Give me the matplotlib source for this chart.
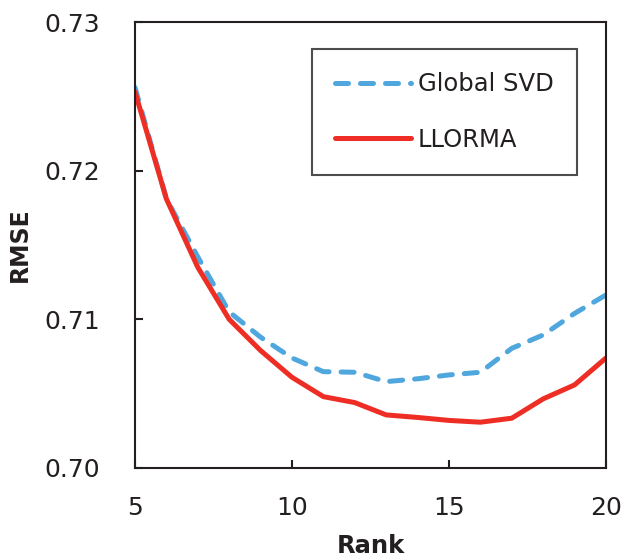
import matplotlib
matplotlib.use("Agg")
import matplotlib.pyplot as plt

rank = [5, 6, 7, 8, 9, 10, 11, 12, 13, 14, 15, 16, 17, 18, 19, 20]
global_svd = [0.7256, 0.7181, 0.7142, 0.7105, 0.7088, 0.7074, 0.70648, 0.70644, 0.70581,
              0.70600, 0.70626, 0.70644, 0.70805, 0.70895, 0.71040, 0.71164]
llorma = [0.7253, 0.7181, 0.7135, 0.7100, 0.7079, 0.7061, 0.7048, 0.7044, 0.70357,
          0.7034, 0.7032, 0.70308, 0.70335, 0.70465, 0.70559, 0.7074]
x_ticks = [5, 10, 15, 20]
y_ticks = [0.70, 0.71, 0.72, 0.73]
y_labels = ["0.70", "0.71", "0.72", "0.73"]

dark = '#231F20'
plt.rcParams['font.family'] = ['DejaVu Sans']
fig = plt.figure(figsize=(6.21, 5.59), dpi=100)
ax = fig.add_axes([0.2174, 0.1628, 0.7584, 0.7978])

ax.plot(rank, global_svd, color='#4FA7DE', lw=3.6, dashes=(2.6, 2.4),
        dash_capstyle='round', solid_capstyle='round', label='Global SVD')
ax.plot(rank, llorma, color='#EE2E24', lw=3.6, solid_capstyle='round', label='LLORMA')

ax.set_xlim(5, 20)
ax.set_ylim(0.70, 0.73)
ax.set_xticks(x_ticks)
ax.set_yticks(y_ticks)
ax.set_yticklabels(y_labels)
ax.tick_params(direction='in', length=6, width=1.5, labelsize=18, colors=dark)
ax.tick_params(axis='y', pad=25)
ax.tick_params(axis='x', pad=20)
for s in ax.spines.values():
    s.set_linewidth(1.5)
    s.set_color(dark)

ax.set_xlabel('Rank', fontsize=17.5, fontweight='bold', labelpad=10, color=dark)
ax.set_ylabel('RMSE', fontsize=17, fontweight='bold', labelpad=9, color=dark)

leg = ax.legend(loc='upper right', bbox_to_anchor=(0.938, 0.939), fontsize=17.5,
                frameon=True, fancybox=False, edgecolor=dark,
                handlelength=3.1, handletextpad=0.3, labelspacing=1.3,
                borderpad=0.95, borderaxespad=0)
leg.get_frame().set_linewidth(1.5)
for t in leg.get_texts():
    t.set_color(dark)

fig.savefig('out.png', dpi=100)
